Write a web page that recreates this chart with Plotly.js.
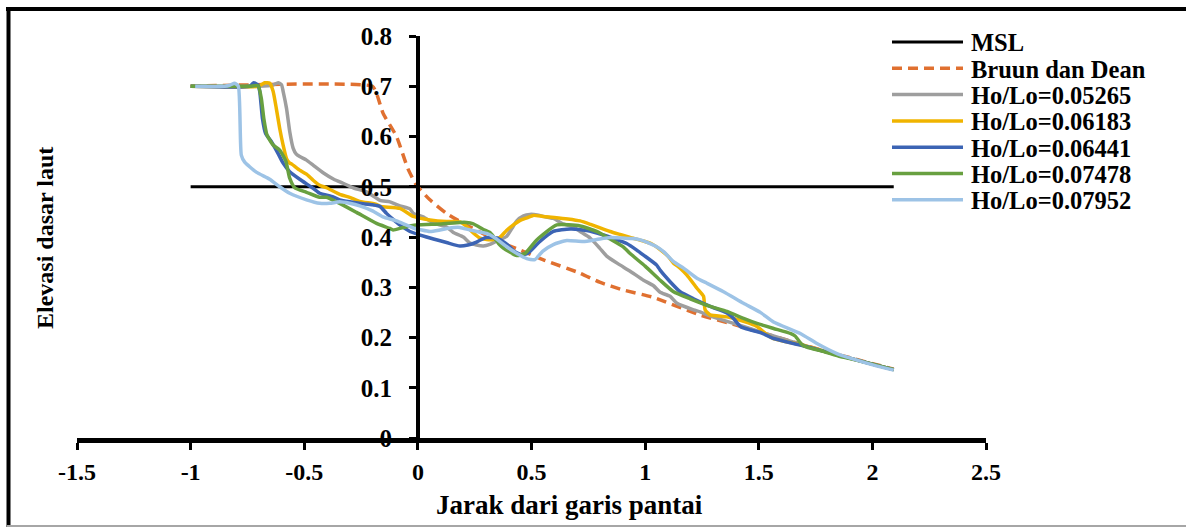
<!DOCTYPE html>
<html>
<head>
<meta charset="utf-8">
<script src="https://cdn.plot.ly/plotly-3.0.1.min.js"></script>
<style>
  html, body { margin: 0; padding: 0; background: #ffffff; }
  #chart { width: 1186px; height: 529px; }
</style>
</head>
<body>
<div id="chart"></div>
<script>
// ---------- data ----------
const xTickVals = [-1.5, -1, -0.5, 0, 0.5, 1, 1.5, 2, 2.5];
const xTickText = ["-1.5", "-1", "-0.5", "0", "0.5", "1", "1.5", "2", "2.5"];
const yTickVals = [0, 0.1, 0.2, 0.3, 0.4, 0.5, 0.6, 0.7, 0.8];
const yTickText = ["0", "0.1", "0.2", "0.3", "0.4", "0.5", "0.6", "0.7", "0.8"];

const seriesNames = ["MSL", "Bruun dan Dean", "Ho/Lo=0.05265", "Ho/Lo=0.06183",
                     "Ho/Lo=0.06441", "Ho/Lo=0.07478", "Ho/Lo=0.07952"];

const mslX = [-1, 2.094];
const mslY = [0.5, 0.5];

const bruunX = [-1, -0.2, -0.182, -0.153, -0.094, -0.043, -0.006, 0.053, 0.126, 0.2, 0.273, 0.35, 0.45, 0.55, 0.714, 0.8, 0.9, 1.035, 1.24, 1.4, 1.6, 1.8, 2.0, 2.094];
const bruunY = [0.7, 0.7, 0.686, 0.646, 0.6, 0.535, 0.503, 0.474, 0.447, 0.427, 0.41, 0.392, 0.374, 0.355, 0.328, 0.31, 0.295, 0.28, 0.245, 0.225, 0.198, 0.172, 0.148, 0.137];

const h05265X = [-1, -0.70, -0.64, -0.615, -0.60, -0.593, -0.578, -0.564, -0.549, -0.535, -0.52, -0.49, -0.461, -0.417, -0.37, -0.329, -0.28, -0.226, -0.167, -0.123, -0.079, -0.035, -0.02, 0.023, 0.067, 0.126, 0.156, 0.2, 0.229, 0.258, 0.288, 0.32, 0.347, 0.39, 0.415, 0.435, 0.465, 0.493, 0.525, 0.552, 0.596, 0.64, 0.684, 0.714, 0.758, 0.80, 0.831, 0.88, 0.934, 0.993, 1.037, 1.066, 1.11, 1.14, 1.213, 1.242, 1.286, 1.36, 1.433, 1.50, 1.60, 1.70, 1.80, 1.90, 2.00, 2.094];
const h05265Y = [0.700, 0.700, 0.702, 0.707, 0.703, 0.690, 0.656, 0.610, 0.577, 0.565, 0.560, 0.553, 0.543, 0.528, 0.515, 0.507, 0.497, 0.490, 0.473, 0.470, 0.462, 0.456, 0.447, 0.440, 0.428, 0.420, 0.409, 0.400, 0.388, 0.384, 0.382, 0.386, 0.392, 0.401, 0.418, 0.432, 0.442, 0.445, 0.444, 0.441, 0.437, 0.426, 0.420, 0.411, 0.398, 0.378, 0.362, 0.347, 0.332, 0.314, 0.303, 0.290, 0.282, 0.268, 0.255, 0.251, 0.243, 0.232, 0.222, 0.212, 0.198, 0.184, 0.171, 0.159, 0.147, 0.136];

const h06183X = [-1, -0.70, -0.674, -0.652, -0.637, -0.623, -0.608, -0.593, -0.578, -0.564, -0.555, -0.52, -0.49, -0.461, -0.432, -0.402, -0.344, -0.30, -0.256, -0.182, -0.167, -0.079, -0.02, 0.053, 0.126, 0.156, 0.185, 0.214, 0.244, 0.273, 0.303, 0.332, 0.36, 0.39, 0.42, 0.45, 0.479, 0.508, 0.55, 0.60, 0.66, 0.714, 0.76, 0.802, 0.846, 0.89, 0.934, 0.993, 1.03, 1.066, 1.10, 1.125, 1.154, 1.184, 1.228, 1.257, 1.264, 1.286, 1.36, 1.433, 1.492, 1.537, 1.565, 1.70, 1.80, 1.90, 2.00, 2.094];
const h06183Y = [0.700, 0.700, 0.707, 0.706, 0.690, 0.656, 0.616, 0.583, 0.556, 0.547, 0.545, 0.533, 0.525, 0.513, 0.503, 0.498, 0.485, 0.479, 0.471, 0.465, 0.461, 0.457, 0.441, 0.434, 0.431, 0.431, 0.430, 0.421, 0.408, 0.398, 0.395, 0.395, 0.399, 0.413, 0.424, 0.433, 0.438, 0.443, 0.441, 0.439, 0.436, 0.432, 0.425, 0.418, 0.411, 0.405, 0.399, 0.392, 0.386, 0.375, 0.362, 0.348, 0.338, 0.324, 0.298, 0.282, 0.255, 0.245, 0.241, 0.232, 0.222, 0.205, 0.198, 0.184, 0.171, 0.159, 0.147, 0.136];

const h06441X = [-1, -0.74, -0.722, -0.705, -0.696, -0.684, -0.67, -0.645, -0.615, -0.593, -0.564, -0.52, -0.461, -0.432, -0.373, -0.344, -0.30, -0.256, -0.20, -0.167, -0.138, -0.109, -0.08, -0.035, 0.038, 0.126, 0.185, 0.22, 0.258, 0.288, 0.303, 0.347, 0.391, 0.42, 0.449, 0.475, 0.493, 0.537, 0.596, 0.67, 0.743, 0.816, 0.861, 0.919, 0.963, 0.993, 1.051, 1.066, 1.11, 1.154, 1.213, 1.286, 1.36, 1.389, 1.419, 1.463, 1.507, 1.565, 1.683, 1.80, 1.90, 2.00, 2.094];
const h06441Y = [0.700, 0.700, 0.707, 0.703, 0.690, 0.636, 0.606, 0.590, 0.566, 0.547, 0.530, 0.515, 0.497, 0.487, 0.480, 0.474, 0.470, 0.467, 0.464, 0.461, 0.447, 0.435, 0.424, 0.411, 0.400, 0.389, 0.382, 0.384, 0.390, 0.397, 0.399, 0.398, 0.386, 0.373, 0.366, 0.366, 0.371, 0.391, 0.411, 0.416, 0.413, 0.404, 0.397, 0.387, 0.374, 0.364, 0.344, 0.334, 0.311, 0.291, 0.277, 0.262, 0.249, 0.238, 0.222, 0.215, 0.210, 0.198, 0.185, 0.171, 0.159, 0.147, 0.136];

const h07478X = [-1, -0.74, -0.703, -0.689, -0.678, -0.664, -0.637, -0.608, -0.581, -0.564, -0.542, -0.49, -0.432, -0.402, -0.344, -0.27, -0.182, -0.123, -0.109, -0.065, -0.006, 0.097, 0.185, 0.214, 0.244, 0.288, 0.317, 0.361, 0.376, 0.435, 0.471, 0.523, 0.611, 0.714, 0.787, 0.846, 0.905, 0.934, 1.0, 1.066, 1.125, 1.198, 1.286, 1.36, 1.433, 1.492, 1.565, 1.639, 1.66, 1.69, 1.712, 1.786, 1.859, 1.90, 2.00, 2.094];
const h07478Y = [0.700, 0.700, 0.701, 0.676, 0.636, 0.603, 0.583, 0.573, 0.551, 0.517, 0.498, 0.489, 0.479, 0.479, 0.467, 0.449, 0.427, 0.417, 0.414, 0.419, 0.424, 0.426, 0.429, 0.429, 0.426, 0.415, 0.409, 0.384, 0.378, 0.363, 0.367, 0.394, 0.424, 0.422, 0.411, 0.396, 0.380, 0.367, 0.342, 0.314, 0.291, 0.277, 0.262, 0.252, 0.238, 0.228, 0.218, 0.208, 0.203, 0.186, 0.181, 0.172, 0.162, 0.158, 0.147, 0.136];

const h07952X = [-0.98, -0.85, -0.828, -0.806, -0.79, -0.777, -0.762, -0.711, -0.652, -0.608, -0.564, -0.49, -0.432, -0.388, -0.344, -0.30, -0.256, -0.20, -0.154, -0.094, -0.02, 0.053, 0.097, 0.14, 0.185, 0.229, 0.303, 0.34, 0.39, 0.44, 0.479, 0.515, 0.55, 0.596, 0.655, 0.728, 0.787, 0.846, 0.934, 0.963, 1.007, 1.045, 1.081, 1.125, 1.169, 1.228, 1.272, 1.345, 1.433, 1.507, 1.565, 1.683, 1.756, 1.844, 1.903, 2.006, 2.094];
const h07952Y = [0.700, 0.700, 0.702, 0.706, 0.700, 0.563, 0.549, 0.529, 0.515, 0.500, 0.487, 0.474, 0.467, 0.467, 0.470, 0.467, 0.462, 0.452, 0.440, 0.432, 0.418, 0.411, 0.414, 0.418, 0.419, 0.414, 0.407, 0.398, 0.381, 0.366, 0.357, 0.355, 0.372, 0.385, 0.393, 0.391, 0.395, 0.399, 0.397, 0.396, 0.390, 0.382, 0.371, 0.351, 0.338, 0.318, 0.308, 0.291, 0.268, 0.250, 0.231, 0.208, 0.188, 0.168, 0.159, 0.145, 0.135];

// ---------- styling ----------
const FONT = "Liberation Serif";
const colors = ["#000000", "#E07030", "#9E9E9E", "#F0B400", "#3C64B4", "#68A040", "#9DC3E6"];
const dashes = ["solid", "10px,6px", "solid", "solid", "solid", "solid", "solid"];
const LW = 3.5;

function mk(i, x, y) {
  return {
    type: "scatter", mode: "lines", name: seriesNames[i], x: x, y: y,
    line: { color: colors[i], width: (i === 0 ? 3 : LW), dash: dashes[i],
            shape: (i === 0 ? "linear" : "spline"), smoothing: 0.5 },
    hoverinfo: "skip", showlegend: false
  };
}

const traces = [
  mk(0, mslX, mslY),
  mk(1, bruunX, bruunY),
  mk(2, h05265X, h05265Y),
  mk(3, h06183X, h06183Y),
  mk(4, h06441X, h06441Y),
  mk(5, h07478X, h07478Y),
  mk(6, h07952X, h07952Y)
];

// plot area in pixels (for placing legend/frame in paper coordinates)
const M = { l: 77, r: 200, t: 36, b: 91 };
const W = 1186, H = 529;
const PW = W - M.l - M.r, PH = H - M.t - M.b;
const px2p = (px) => (px - M.l) / PW;
const py2p = (py) => (H - M.b - py) / PH;

const annotations = [
  { text: "Elevasi dasar laut", xref: "paper", yref: "paper", x: px2p(45), y: py2p(238),
    textangle: -90, showarrow: false, xanchor: "center", yanchor: "middle",
    font: { family: FONT, size: 24, color: "#000000", weight: 700 } },
  { text: "Jarak dari garis pantai", xref: "paper", yref: "paper", x: px2p(569), y: py2p(505),
    showarrow: false, xanchor: "center", yanchor: "middle",
    font: { family: FONT, size: 27, color: "#000000", weight: 700 } }
];

const shapes = [
  // outer frame
  { type: "line", xref: "paper", yref: "paper", x0: px2p(6), x1: px2p(1190), y0: py2p(9), y1: py2p(9),
    line: { color: "#000000", width: 4 } },
  { type: "line", xref: "paper", yref: "paper", x0: px2p(8.5), x1: px2p(8.5), y0: py2p(7), y1: py2p(527),
    line: { color: "#000000", width: 4 } },
  { type: "line", xref: "paper", yref: "paper", x0: px2p(7), x1: px2p(1190), y0: py2p(526), y1: py2p(526),
    line: { color: "#A6A6A6", width: 2 } }
];

// legend (drawn as text + sample lines)
const legX0 = 892, legX1 = 963, legTextX = 970, legY0 = 42, legDY = 26.3;
seriesNames.forEach(function (nm, i) {
  const yy = legY0 + i * legDY;
  shapes.push({ type: "line", xref: "paper", yref: "paper",
    x0: px2p(legX0), x1: px2p(legX1), y0: py2p(yy), y1: py2p(yy),
    line: { color: colors[i], width: (i === 0 ? 3 : LW), dash: dashes[i] } });
  annotations.push({ text: nm, xref: "paper", yref: "paper", x: px2p(legTextX), y: py2p(yy + 1),
    showarrow: false, xanchor: "left", yanchor: "middle", borderpad: 0,
    font: { family: FONT, size: 24.5, color: "#000000", weight: 700 } });
});

const layout = {
  width: W, height: H,
  margin: M,
  paper_bgcolor: "#ffffff", plot_bgcolor: "#ffffff",
  font: { family: FONT, size: 22, color: "#000000", weight: 700 },
  showlegend: false,
  xaxis: {
    domain: [0, 1], range: [-1.5, 2.5], autorange: false,
    tickmode: "array", tickvals: xTickVals, ticktext: xTickText,
    showgrid: false, zeroline: false,
    showline: true, linecolor: "#000000", linewidth: 4.5,
    ticks: "outside", ticklen: 7, tickwidth: 3, tickcolor: "#000000",
    tickfont: { family: FONT, size: 24, color: "#000000", weight: 700 },
    ticklabelstandoff: 2
  },
  yaxis: {
    domain: [0, 1], range: [0, 0.8], autorange: false,
    anchor: "free", position: px2p(418),
    tickmode: "array", tickvals: yTickVals, ticktext: yTickText,
    showgrid: false, zeroline: false,
    showline: true, linecolor: "#000000", linewidth: 4,
    ticks: "outside", ticklen: 7, tickwidth: 3, tickcolor: "#000000",
    tickfont: { family: FONT, size: 25, color: "#000000", weight: 700 },
    ticklabelstandoff: 12
  },
  annotations: annotations,
  shapes: shapes
};

Plotly.newPlot("chart", traces, layout, { displayModeBar: false, staticPlot: true });
</script>
</body>
</html>
